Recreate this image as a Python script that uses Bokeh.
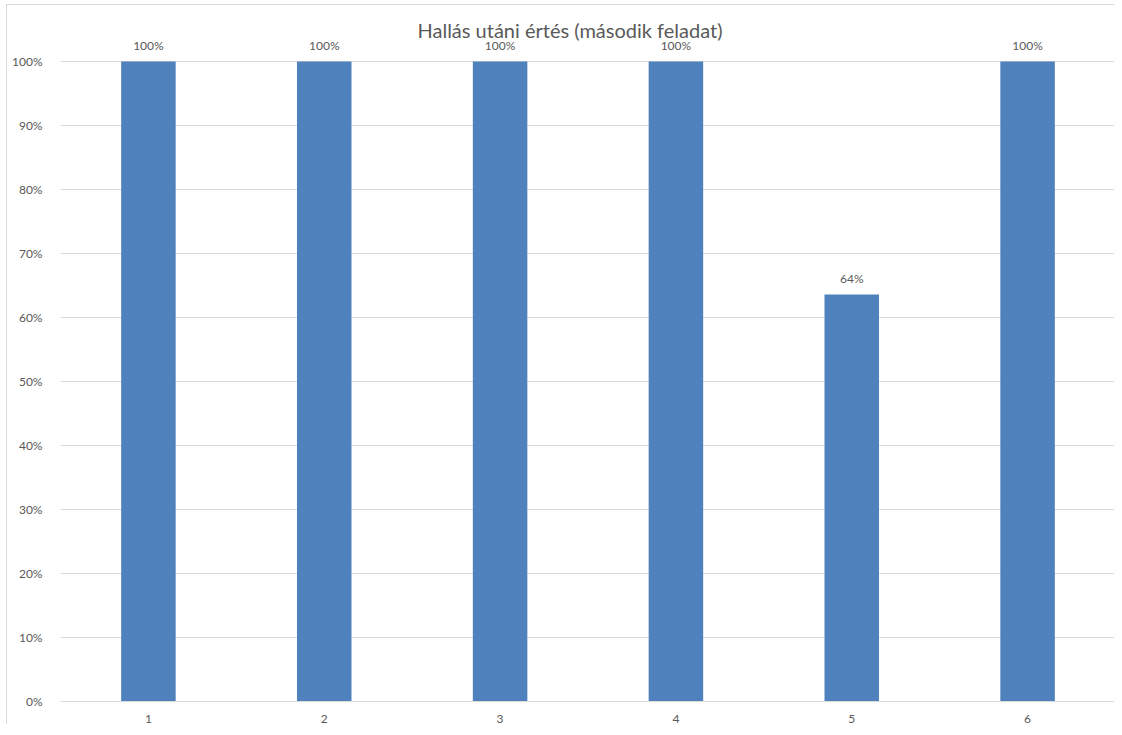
from bokeh.plotting import figure
from bokeh.models import ColumnDataSource, FixedTicker, LabelSet, Label, NumeralTickFormatter, FactorRange, Range1d
from bokeh.core.properties import value
from bokeh.embed import file_html
from bokeh.resources import INLINE

categories = ["1", "2", "3", "4", "5", "6"]
values = [1.0, 1.0, 1.0, 1.0, 0.636, 1.0]
labels = ["100%", "100%", "100%", "100%", "64%", "100%"]
y_ticks = [0.0, 0.1, 0.2, 0.3, 0.4, 0.5, 0.6, 0.7, 0.8, 0.9, 1.0]
title_text = "Hallás utáni értés (második feladat)"

FONT = "Lato"
GREY = "#595959"

# pixel geometry
PLOT_H = 641.0        # pixels between 0% and 100%
TOP_EXTRA = 49.0      # pixels of frame above 100%
y_end = 1.0 + TOP_EXTRA / PLOT_H

source = ColumnDataSource(data=dict(cat=categories, val=values, lab=labels))

p = figure(
    x_range=FactorRange(*categories, range_padding=0),
    y_range=Range1d(0, y_end),
    width=1108, height=720,
    output_backend="svg", toolbar_location=None,
    min_border_left=53, min_border_right=0, min_border_top=7, min_border_bottom=10,
)

p.vbar(x="cat", top="val", width=0.31, source=source, fill_color="#4f81bd", line_color=None)

lbl = LabelSet(x="cat", y="val", text="lab", source=source, text_align="center",
               text_baseline="bottom", y_offset=8, text_font=value(FONT),
               text_font_size=value("12px"), text_color=value(GREY))
p.add_layout(lbl)

title = Label(x=3.0, y=1.0 + 31.0 / PLOT_H, text=title_text, text_align="center",
              text_baseline="middle", x_offset=-18, text_font=FONT, text_font_size="20px",
              text_color=GREY)
p.add_layout(title)

p.yaxis.ticker = FixedTicker(ticks=y_ticks)
p.yaxis.formatter = NumeralTickFormatter(format="0%")
p.yaxis.axis_line_color = None
p.yaxis.major_tick_line_color = None
p.yaxis.minor_tick_line_color = None
p.yaxis.major_label_text_font = FONT
p.yaxis.major_label_text_font_size = "12px"
p.yaxis.major_label_text_color = GREY
p.yaxis.major_label_standoff = 12

p.xaxis.axis_line_color = "#d9d9d9"
p.xaxis.major_tick_line_color = None
p.xaxis.minor_tick_line_color = None
p.xaxis.major_label_text_font = FONT
p.xaxis.major_label_text_font_size = "12px"
p.xaxis.major_label_text_color = GREY
p.xaxis.major_label_standoff = 7

p.xgrid.grid_line_color = None
p.ygrid.grid_line_color = "#d9d9d9"
p.outline_line_color = None
p.background_fill_color = "white"
p.border_fill_color = "white"
p.styles = {"border-left": "1px solid #d9d9d9", "border-top": "1px solid #d9d9d9",
            "margin-left": "6px", "margin-top": "4px"}

open("out.html", "w").write(file_html(p, INLINE))
